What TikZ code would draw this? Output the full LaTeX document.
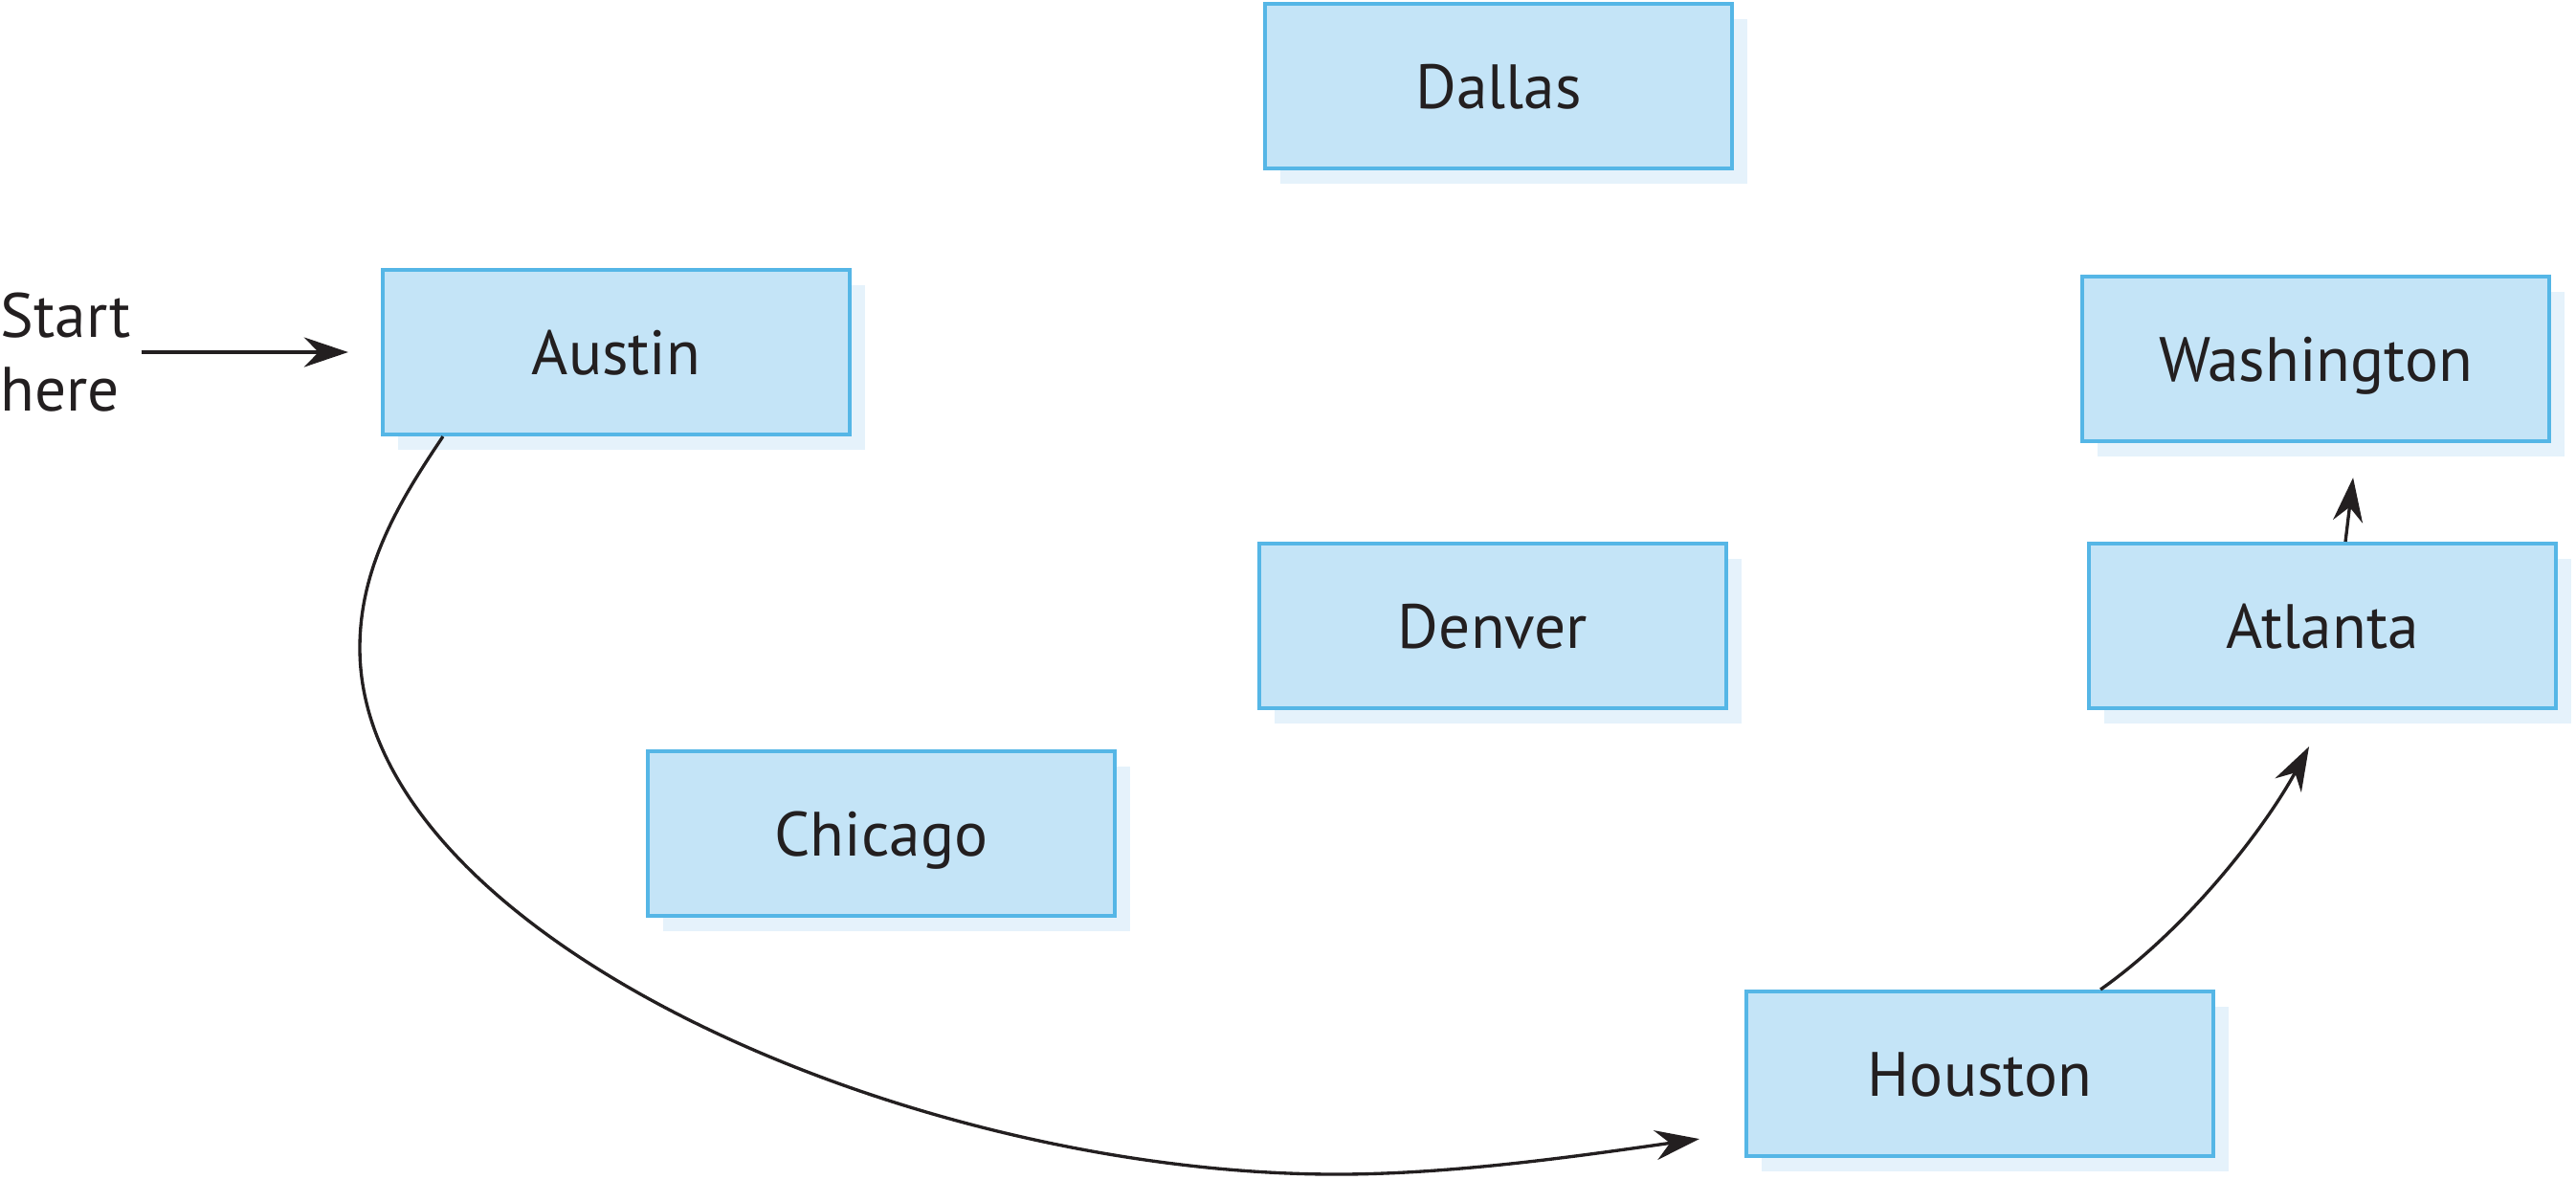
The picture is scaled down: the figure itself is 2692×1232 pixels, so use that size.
\documentclass[tikz,border=0pt]{standalone}
\usepackage{fontspec}
\setmainfont{PT Sans}
\usetikzlibrary{shadows,arrows.meta}
\definecolor{boxfill}{HTML}{C4E4F7}
\definecolor{boxline}{HTML}{55B6E6}
\definecolor{boxshadow}{HTML}{E5F2FB}
\definecolor{ink}{HTML}{231F20}
\newcommand\citysize{\fontsize{18.6pt}{22pt}\selectfont}
\begin{document}
\begin{tikzpicture}[x=0.01cm,y=-0.01cm,
  city/.style={draw=boxline, fill=boxfill, line width=0.04cm,
    minimum width=4.88cm, minimum height=1.72cm, text=ink, font=\citysize,
    text height=0.46cm, text depth=0pt, inner sep=0pt,
    drop shadow={shadow xshift=0.16cm, shadow yshift=-0.16cm, fill=boxshadow, opacity=1}},
  arr/.style={draw=ink, line width=0.95pt, -{Stealth[length=4.6mm,width=3.1mm,inset=1.5mm]}}]
\useasboundingbox (0,0) rectangle (2692,1232);

\node[city] (dallas) at (1566,90) {Dallas};
\node[city] (austin) at (644,368) {Austin};
\node[city] (washington) at (2420,375) {Washington};
\node[city] (denver) at (1560,654) {Denver};
\node[city] (atlanta) at (2427,654) {Atlanta};
\node[city] (chicago) at (921,871) {Chicago};
\node[city] (houston) at (2069,1122) {Houston};

\node[font=\citysize, text=ink, align=left, anchor=west, inner sep=0pt] (start) at (0,368) {Start\\here};

\draw[arr] ([xshift=-2.5cm]austin.west) -- ([xshift=-0.34cm]austin.west);

\coordinate (aout) at ([xshift=0.65cm]austin.south west);
\coordinate (hin) at ([xshift=-0.47cm,yshift=-0.68cm]houston.west);
\draw[arr] (aout) .. controls (420,520) and (376,590) .. (376,677)
  .. controls (376,977) and (947,1227) .. (1397,1227)
  .. controls (1520,1227) and (1656,1207) .. (hin);

\draw[arr] ([xshift=1.26cm]houston.north) .. controls (2290,967) and (2370,860) .. ([xshift=-0.14cm,yshift=-0.38cm]atlanta.south);

\draw[arr] ([xshift=0.24cm]atlanta.north) -- ([xshift=0.39cm,yshift=-0.36cm]washington.south);
\end{tikzpicture}
\end{document}
